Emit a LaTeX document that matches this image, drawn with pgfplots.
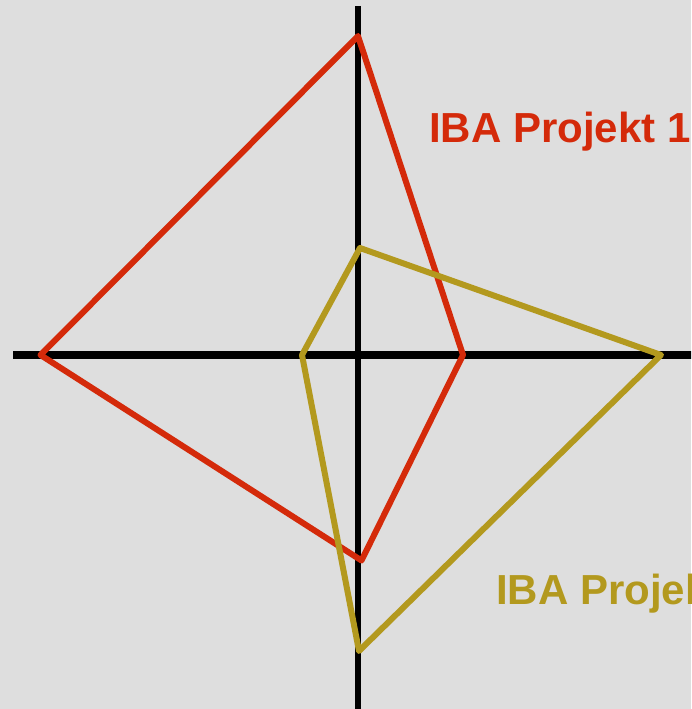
\documentclass[border=0pt]{standalone}
\usepackage{pgfplots}
\pgfplotsset{compat=1.18}
\usepackage{fontspec}
\setmainfont{Liberation Sans}
\definecolor{bgc}{HTML}{DEDEDE}
\definecolor{redc}{HTML}{D42A0A}
\definecolor{goldc}{HTML}{B3991E}
\begin{document}
\begin{tikzpicture}
\clip (0,0) rectangle (691pt,709pt);
\fill[bgc] (0,0) rectangle (691pt,709pt);
\begin{axis}[
  at={(0,0)}, anchor=south west,
  scale only axis, width=691pt, height=709pt,
  xmin=-358, xmax=333, ymin=-354, ymax=355,
  hide axis, clip=false,
]
\addplot[black, line width=7.5pt] coordinates {(-345,0) (340,0)};
\addplot[black, line width=6.5pt] coordinates {(0,349) (0,-360)};
\addplot[redc, line width=6pt, line join=round] coordinates {(0,319) (105,0) (3.5,-205.5) (-317.5,0) (0,319)} -- cycle;
\addplot[goldc, line width=6pt, line join=round] coordinates {(2,107) (303,0) (1,-296) (-56,0) (2,107)} -- cycle;
\node[anchor=base west, inner sep=0pt, text=redc, font=\fontsize{42}{48}\selectfont\bfseries] at (axis cs:71,212) {IBA Projekt 1};
\node[anchor=base west, inner sep=0pt, text=goldc, font=\fontsize{42}{48}\selectfont\bfseries] at (axis cs:138,-250) {IBA Projekt 2};
\end{axis}
\end{tikzpicture}
\end{document}
